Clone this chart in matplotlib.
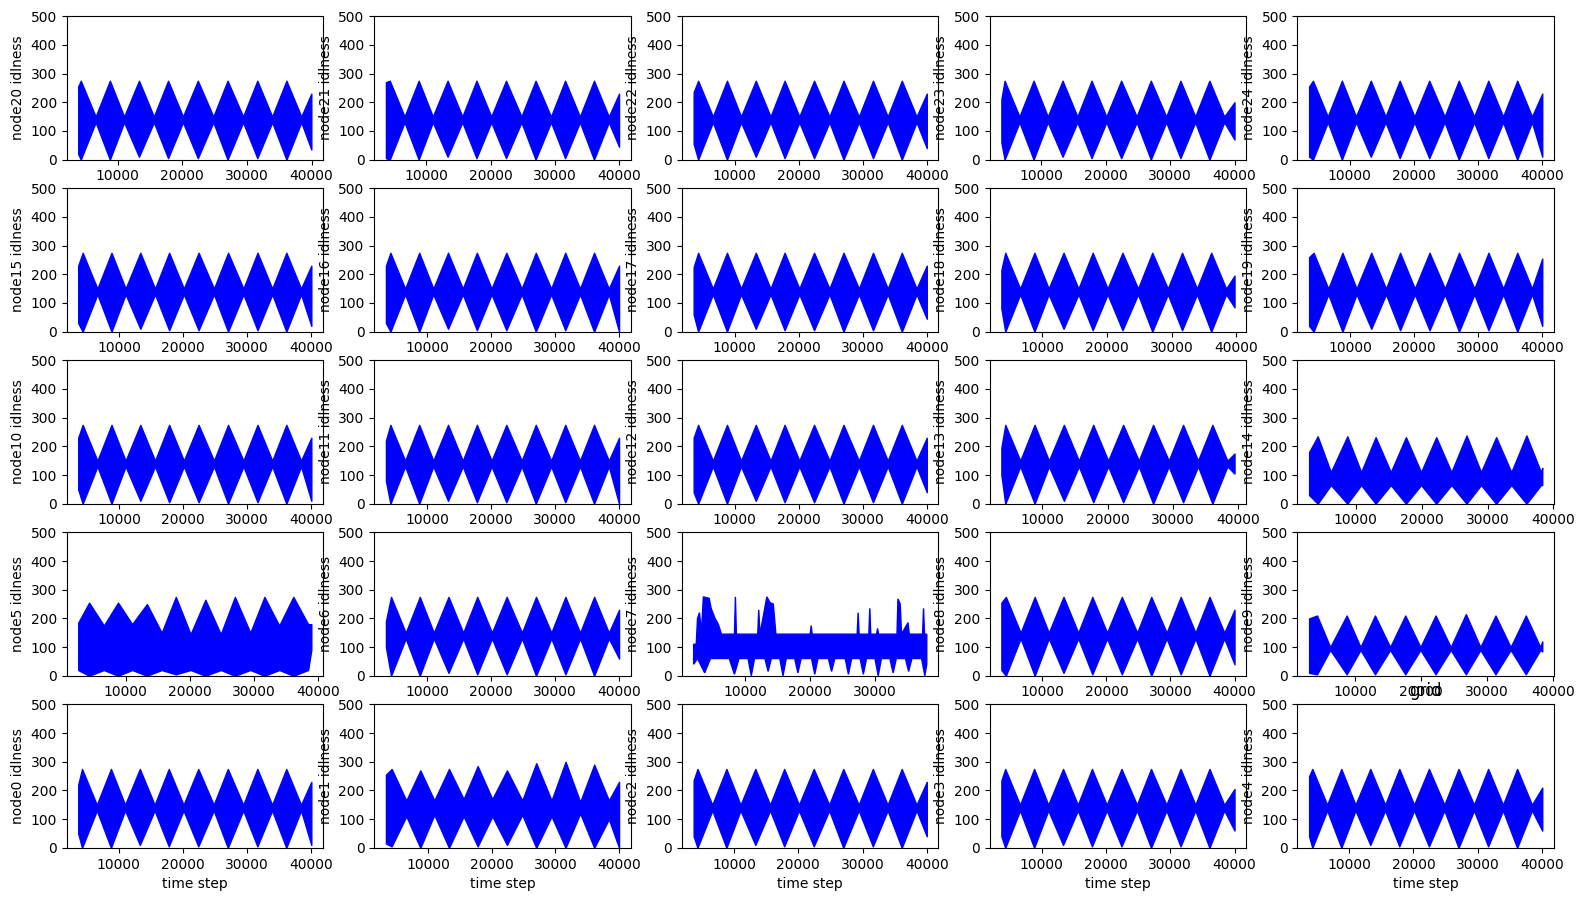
import numpy as np
import matplotlib.pyplot as plt

# ---------------------------------------------------------
# Data (envelope of each idleness trace)
# ---------------------------------------------------------
# subplot order, top row first
grid_rows = [[20, 21, 22, 23, 24],
             [15, 16, 17, 18, 19],
             [10, 11, 12, 13, 14],
             [5, 6, 7, 8, 9],
             [0, 1, 2, 3, 4]]

# first / last time step of each node (index = node id)
start_x = [3700, 3400, 3700, 3700, 3800, 2600, 3500, 2000, 3600, 3000,
           3600, 3600, 3600, 3700, 2900, 3600, 3600, 3600, 3700, 3600,
           3900, 3700, 3600, 3800, 3700]
end_x = [40000, 40000, 40000, 40000, 40000, 38900, 40000, 38000, 40000, 38400,
         40000, 40000, 40000, 39500, 38300, 40000, 40000, 40000, 39700, 40000,
         39950, 40000, 40000, 40000, 40000]
start_hi = [220, 255, 235, 235, 250, 185, 190, 110, 255, 200,
            230, 220, 230, 195, 180, 230, 230, 225, 215, 260,
            255, 270, 235, 210, 255]
start_lo = [50, 15, 40, 40, 40, 20, 100, 40, 20, 10,
            50, 80, 40, 100, 30, 30, 30, 60, 80, 20,
            20, 5, 55, 60, 10]
end_hi = [230, 230, 230, 205, 210, 180, 230, 145, 230, 120,
          230, 230, 230, 175, 125, 230, 230, 230, 195, 255,
          230, 230, 230, 200, 230]
end_lo = [10, 0, 40, 60, 60, 90, 60, 40, 40, 85,
          10, 0, 40, 105, 65, 20, 0, 45, 85, 20,
          35, 45, 40, 70, 10]

# widest / narrowest points of the beating pattern
peak_x = [4300, 8800, 13300, 17800, 22400, 27000, 31600, 36100]
waist_x = [6600, 11000, 15600, 20100, 24800, 29400, 33900, 38400]
peak_x_short = [4200, 8700, 13000, 17600, 22200, 26800, 31300, 35900]
waist_x_short = [6200, 10800, 15300, 19900, 24500, 29000, 33600, 38100]

# regular diamond pattern
diamond_peak_hi = [275, 275, 275, 275, 275, 275, 275, 275]
diamond_peak_lo = [0, 0, 10, 5, 5, 0, 5, 0]
diamond_waist_hi = [150, 150, 150, 150, 150, 150, 150, 150]
diamond_waist_lo = [130, 130, 130, 130, 130, 130, 130, 130]

node1_peak_hi = [275, 270, 275, 285, 270, 295, 300, 290]
node1_peak_lo = [5, 0, 0, 5, 10, 0, 0, 0]
node1_waist_hi = [165, 165, 170, 170, 165, 165, 160, 165]
node1_waist_lo = [110, 115, 110, 110, 115, 110, 120, 100]

node5_peak_hi = [255, 255, 250, 275, 265, 275, 275, 275]
node5_peak_lo = [0, 0, 0, 5, 0, 0, 0, 0]
node5_waist_hi = [175, 180, 150, 145, 145, 150, 175, 180]
node5_waist_lo = [20, 20, 20, 20, 20, 20, 20, 20]

node9_peak_hi = [210, 210, 210, 210, 210, 215, 210, 210]
node9_peak_lo = [5, 5, 5, 5, 5, 5, 5, 5]
node9_waist_hi = [100, 100, 100, 100, 100, 100, 100, 100]
node9_waist_lo = [90, 90, 90, 90, 90, 90, 90, 90]

node14_peak_hi = [235, 235, 232, 232, 232, 238, 232, 238]
node14_peak_lo = [0, 0, 0, 0, 0, 0, 0, 0]
node14_waist_hi = [110, 110, 110, 110, 110, 110, 110, 110]
node14_waist_lo = [65, 65, 65, 65, 65, 65, 65, 65]

# node7 is irregular: upper and lower outline
node7_up_x = [2000, 2400, 2600, 2900, 3200, 3500, 4400, 4700, 5300, 5800, 6300,
              8300, 8450, 8600, 11900, 12050, 12250, 13300, 13800, 14300, 14700,
              20000, 20150, 20300, 27250, 27400, 27550, 29050, 29200, 29350,
              30250, 30400, 30550, 33400, 33550, 33900, 34100, 35100, 35300,
              37350, 37500, 37650, 38000]
node7_up_y = [110, 110, 200, 220, 150, 275, 270, 235, 200, 180, 145,
              145, 275, 145, 145, 230, 145, 275, 255, 250, 145,
              145, 175, 145, 145, 220, 145, 145, 235, 145,
              145, 165, 145, 145, 268, 250, 145, 185, 145,
              145, 235, 145, 145]
node7_lo_x = [2000, 2600, 3700, 4600, 7500, 8300, 9000, 10400, 10900, 11400,
              13000, 13500, 14000, 15300, 15800, 16300, 17600, 18100, 18600,
              20200, 20700, 21200, 22800, 23300, 23800, 25400, 25900, 26400,
              27700, 28200, 28700, 30000, 30500, 31000, 32300, 32800, 33300,
              34700, 35200, 35700, 37200, 37700, 38000]
node7_lo_y = [40, 60, 10, 60, 60, 5, 60, 60, 0, 60,
              60, 15, 60, 60, 0, 60, 60, 10, 60,
              60, 5, 60, 60, 15, 60, 60, 5, 60,
              60, 5, 60, 60, 0, 60, 60, 10, 60,
              60, 15, 60, 60, 0, 40]

special = {
    1: (peak_x, waist_x, node1_peak_hi, node1_peak_lo, node1_waist_hi, node1_waist_lo),
    5: (peak_x, waist_x, node5_peak_hi, node5_peak_lo, node5_waist_hi, node5_waist_lo),
    9: (peak_x_short, waist_x_short, node9_peak_hi, node9_peak_lo, node9_waist_hi, node9_waist_lo),
    14: (peak_x_short, waist_x_short, node14_peak_hi, node14_peak_lo, node14_waist_hi, node14_waist_lo),
}


def envelope(node):
    px, wx, phi, plo, whi, wlo = special.get(
        node, (peak_x, waist_x, diamond_peak_hi, diamond_peak_lo,
               diamond_waist_hi, diamond_waist_lo))
    xs, hi, lo = [start_x[node]], [start_hi[node]], [start_lo[node]]
    for k in range(len(px)):
        for x, h, l in ((px[k], phi[k], plo[k]), (wx[k], whi[k], wlo[k])):
            if start_x[node] < x < end_x[node]:
                xs.append(x)
                hi.append(h)
                lo.append(l)
    xs.append(end_x[node])
    hi.append(end_hi[node])
    lo.append(end_lo[node])
    return np.array(xs), np.array(hi), np.array(lo)


def run_plot():
    fig, axes = plt.subplots(5, 5, figsize=(15.84, 9), dpi=100)
    fig.subplots_adjust(left=0.042, right=0.981, top=0.982, bottom=0.058,
                        wspace=0.2, hspace=0.2)

    for r, row in enumerate(grid_rows):
        for c, node in enumerate(row):
            ax = axes[r, c]
            if node == 7:
                ax.fill(np.r_[node7_up_x, node7_lo_x[::-1]],
                        np.r_[node7_up_y, node7_lo_y[::-1]],
                        color='blue', lw=1)
            else:
                xs, hi, lo = envelope(node)
                ax.fill_between(xs, lo, hi, color='blue', lw=1)
            ax.set_ylim(0, 500)
            ax.set_yticks([0, 100, 200, 300, 400, 500])
            ax.set_ylabel(f"node{node} idlness")
            if r == 4:
                ax.set_xlabel("time step")

    axes[4, 4].set_title("grid")
    fig.savefig("out.png", dpi=100)


if __name__ == "__main__":
    run_plot()
